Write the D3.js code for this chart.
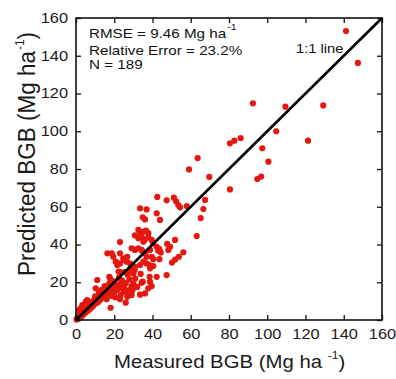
<!DOCTYPE html>
<html><head><meta charset="utf-8">
<script src="https://cdn.jsdelivr.net/npm/d3@7"></script>
<style>body{margin:0;background:#fff}svg{display:block}</style>
</head><body>
<script>
const measured = [141.2,147.4,92.5,109.5,129.3,104.7,121.3,97.4,80.5,82.8,86.1,100.6,94.8,96.8,69.7,80.5,67.5,66.6,65.2,63.6,59.1,
51.2,52.3,53.5,54.4,57.9,47.4,42.5,63.1,56.1,53.8,51.8,50.2,
33.5,36.9,34.9,36.1,42.2,43.9,
32.6,33.8,35.2,36.6,37.8,30.8,32.6,34.3,36.1,37.8,39.6,35.2,40.4,42.2,
23.0,29.1,30.8,32.6,34.3,36.1,36.9,39.6,40.4,43.0,44.3,43.6,48.3,49.2,51.8,47.7,
40.4,38.7,36.9,33.5,30.8,23.0,24.7,26.5,28.2,42.2,47.4,30.0,35.2,38.3,
30.0,34.9,38.7,39.6,37.8,29.1,33.5,36.1,
16.4,18.7,19.5,20.8,21.6,23.0,25.1,26.8,
11.1,17.8,10.3,5.9,5.1,3.3,2.4,1.6,
9.4,11.1,12.9,14.6,16.4,18.1,19.9,21.6,23.4,25.1,26.8,27.7,25.1,23.4,
18.1,26.0,22.3,23.7,25.6,28.8,30.0,30.7,33.8,38.5,34.3,27.4,29.6,17.4,43.6,38.7,34.5,
0.5,1.0,1.2,1.8,2.2,2.8,3.0,3.5,4.0,4.3,4.8,5.5,6.0,6.5,7.0,7.5,8.0,8.5,9.0,10.0,10.5,11.5,12.0,12.5,13.5,13.8,14.5,15.0,15.5,16.0,17.0,17.5,18.5,19.0,20.0,20.5,21.0,22.0,22.5,23.0,24.0,24.5,26.0,27.0,28.0,29.0,31.0,32.0,0.3,2.0,6.8];
const predicted = [153.1,136.2,114.8,113.0,113.7,100.0,95.0,91.0,93.6,95.0,96.4,83.9,74.7,76.0,75.8,69.2,63.6,58.8,54.0,85.8,79.8,
64.8,62.9,60.9,59.7,60.4,63.4,65.2,44.5,35.9,33.5,32.0,30.4,
59.2,58.6,54.4,53.3,56.5,53.0,
47.7,46.0,46.8,47.3,46.0,44.8,43.3,44.1,42.7,43.8,42.4,41.5,40.6,38.8,
41.3,38.0,37.1,38.0,37.1,35.3,33.5,33.5,32.2,36.7,35.7,32.2,37.1,38.8,42.4,40.3,
28.6,27.4,30.0,29.1,28.2,35.3,32.7,30.9,30.0,22.9,23.8,27.4,30.9,29.1,
19.1,20.3,20.3,18.0,16.8,13.2,13.4,14.1,
35.3,35.3,33.5,30.9,29.1,30.0,31.8,33.5,
21.2,22.1,16.8,10.6,9.7,7.9,6.2,5.3,
10.6,11.5,12.3,14.1,15.0,15.9,14.1,15.9,13.2,15.0,12.3,15.9,17.6,19.4,
6.5,9.2,25.6,25.3,25.4,26.1,24.7,26.5,24.4,22.9,19.8,14.1,15.9,22.9,37.5,37.1,36.7,
0.8,1.5,0.6,2.4,1.5,3.2,2.0,4.4,3.0,5.0,3.8,6.0,4.6,7.2,5.5,8.5,6.5,9.0,7.5,12.5,8.8,9.6,14.5,10.5,16.0,11.8,12.6,18.0,13.5,11.0,14.2,19.5,12.8,17.0,20.5,12.0,18.5,17.0,22.5,11.0,21.0,16.5,19.5,24.0,21.5,18.0,22.0,17.5,0.2,3.4,9.5];
const xTicks = [0,20,40,60,80,100,120,140,160];
const yTicks = [0,20,40,60,80,100,120,140,160];
const statLines = ["RMSE = 9.46 Mg ha", "Relative Error = 23.2%", "N = 189"];
const lineLabel = "1:1 line";

const W = 396, H = 379, SX = 1.17;
const FONT = "'Liberation Sans', Arial, Helvetica, sans-serif";
const svg = d3.select("body").append("svg").attr("width", W).attr("height", H)
  .style("font-family", FONT);

const x = d3.scaleLinear().domain([0,160]).range([76,382]);
const y = d3.scaleLinear().domain([0,160]).range([320,18]);

function stretchAbout(ax, ay, s) {
  s = s || SX;
  return `translate(${ax},${ay}) scale(${s},1) translate(${-ax},${-ay})`;
}

// points
svg.append("g").selectAll("circle").data(measured.map((m,i)=>[m,predicted[i]]))
  .join("circle").attr("cx", d=>x(d[0])).attr("cy", d=>y(d[1])).attr("r", 3.1)
  .attr("fill", "#e5170f");

// 1:1 line
svg.append("line").attr("x1", x(0)).attr("y1", y(0)).attr("x2", x(160)).attr("y2", y(160))
  .attr("stroke", "#000").attr("stroke-width", 2.6);

// axes
const gx = svg.append("g").attr("transform", "translate(0,320)")
  .call(d3.axisBottom(x).tickValues(xTicks).tickSize(-5).tickPadding(9));
const gy = svg.append("g").attr("transform", "translate(76,0)")
  .call(d3.axisLeft(y).tickValues(yTicks).tickSize(-5).tickPadding(8));
const gt = svg.append("g").attr("transform", "translate(0,18)")
  .call(d3.axisTop(x).tickValues(xTicks).tickSize(-5).tickFormat(""));
const gr = svg.append("g").attr("transform", "translate(382,0)")
  .call(d3.axisRight(y).tickValues(yTicks).tickSize(-5).tickFormat(""));
[gx,gy,gt,gr].forEach(g => {
  g.select(".domain").remove();
  g.selectAll(".tick line").attr("stroke", "#111").attr("stroke-width", 1.3);
  g.selectAll("text").attr("fill", "#1a1a1a").style("font-size", "14px").style("font-family", FONT);
});
gx.selectAll(".tick text").attr("transform", `scale(${SX},1)`);
gy.selectAll(".tick text").attr("transform", stretchAbout(-8, 0));

svg.append("rect").attr("x", 76).attr("y", 18).attr("width", 306).attr("height", 302)
  .attr("fill", "none").attr("stroke", "#111").attr("stroke-width", 1.6);

// stats annotation
const baselines = [37.7, 55, 69.3];
statLines.forEach((s, i) => {
  const t = svg.append("text").attr("x", 89).attr("y", baselines[i])
    .attr("font-size", 13).attr("fill", "#111").attr("transform", stretchAbout(89, 0)).text(s);
  if (i === 0) t.append("tspan").attr("dx", 1).attr("dy", -8).attr("font-size", 9).text("-1");
});
svg.append("text").attr("x", 296).attr("y", 53.3).attr("font-size", 12.6).attr("fill", "#111")
  .attr("transform", stretchAbout(296, 0)).text(lineLabel);

// x title
const xt = svg.append("text").attr("x", 114).attr("y", 368).attr("font-size", 18.5).attr("fill", "#1a1a1a")
  .attr("transform", stretchAbout(114, 0, 1.1));
xt.append("tspan").text("Measured BGB (Mg ha ");
xt.append("tspan").attr("dy", -9).attr("font-size", 11).text("-1");
xt.append("tspan").attr("dy", 9).text(")");

// y title
const yt = svg.append("text").attr("x", 0).attr("y", 0).attr("text-anchor", "middle")
  .attr("font-size", 22.5).attr("fill", "#1a1a1a")
  .attr("transform", `translate(35,154) scale(1.1,1) rotate(-90)`);
yt.append("tspan").text("Predicted BGB (Mg ha");
yt.append("tspan").attr("dx", 1).attr("dy", -10).attr("font-size", 12).text("-1");
yt.append("tspan").attr("dy", 10).text(")");
</script>
</body></html>
